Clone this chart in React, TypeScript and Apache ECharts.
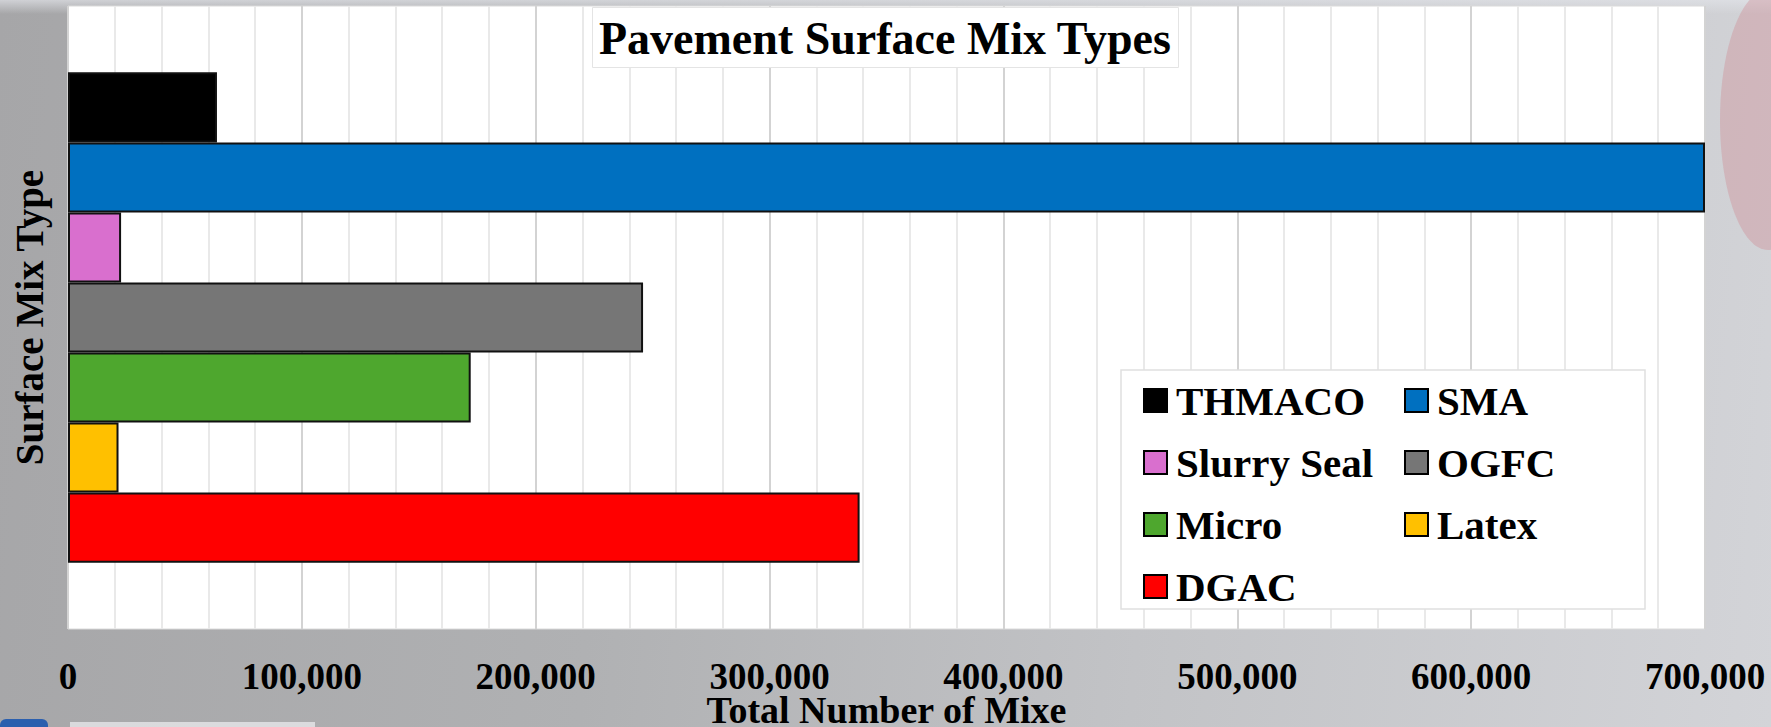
import React, { useEffect, useRef } from "react";
import * as echarts from "echarts";

// Pavement surface mix totals, one bar per mix type
const surfaceCategory = ["Surface Mix"];
const mixTypes = ["THMACO", "SMA", "Slurry Seal", "OGFC", "Micro", "Latex", "DGAC"];
const mixTotals = [63700, 700000, 22700, 245900, 172200, 21600, 338500];
const mixColors = ["#000000", "#0070C0", "#D96FCE", "#767676", "#4EA72E", "#FFC000", "#FF0000"];
const legendColumnA = ["THMACO", "Slurry Seal", "Micro", "DGAC"];
const legendColumnB = ["SMA", "OGFC", "Latex"];

const FONT = "Liberation Serif";

export default function App() {
  const ref = useRef<HTMLDivElement>(null);

  useEffect(() => {
    if (!ref.current) return;
    const chart = echarts.init(ref.current, undefined, { renderer: "svg" });

    const legendText = {
      fontFamily: FONT,
      fontWeight: "bold" as const,
      fontSize: 41,
      lineHeight: 40,
      color: "#000",
    };

    const legendBase = {
      orient: "vertical" as const,
      top: 380,
      padding: 0,
      itemWidth: 23,
      itemHeight: 23,
      itemGap: 21,
      icon: "rect",
      selectedMode: false,
      itemStyle: { borderColor: "#000", borderWidth: 2 },
      formatter: "{t|{name}}",
      textStyle: {
        ...legendText,
        rich: { t: { ...legendText, padding: [0, 0, 0, 4] } },
      },
    };

    chart.setOption({
      animation: false,
      backgroundColor: "transparent",
      textStyle: { fontFamily: FONT },
      title: {
        text: "Pavement Surface Mix Types",
        left: 592,
        top: 7,
        padding: [8, 7, 7, 7],
        backgroundColor: "#ffffff",
        borderColor: "#e4e4e4",
        borderWidth: 1,
        textStyle: {
          fontFamily: FONT,
          fontWeight: "bold",
          fontSize: 46,
          lineHeight: 46,
          color: "#000",
        },
      },
      legend: [
        { ...legendBase, left: 1143, data: legendColumnA },
        { ...legendBase, left: 1404, data: legendColumnB },
      ],
      grid: {
        left: 68,
        right: 66,
        top: 6,
        bottom: 98,
        containLabel: false,
        outerBoundsMode: "none",
        show: true,
        backgroundColor: "#ffffff",
        borderColor: "#dadada",
        borderWidth: 1,
      },
      xAxis: {
        type: "value",
        min: 0,
        max: 700000,
        interval: 100000,
        name: "Total Number of Mixe",
        nameLocation: "middle",
        nameGap: 68,
        nameMoveOverlap: false,
        nameTextStyle: {
          fontFamily: FONT,
          fontWeight: "bold",
          fontSize: 38,
          lineHeight: 26,
          color: "#000",
        },
        axisLine: { show: false },
        axisTick: { show: false },
        axisLabel: {
          margin: 32,
          fontFamily: FONT,
          fontWeight: "bold",
          fontSize: 37,
          lineHeight: 30,
          color: "#000",
          formatter: (v: number) => v.toLocaleString("en-US"),
        },
        splitLine: { show: true, lineStyle: { color: "#d3d3d3", width: 2 } },
        minorTick: { show: false, splitNumber: 5 },
        minorSplitLine: { show: true, lineStyle: { color: "#e9e9e9", width: 2 } },
      },
      yAxis: {
        type: "category",
        data: surfaceCategory,
        name: "Surface Mix Type",
        nameLocation: "middle",
        nameGap: 19,
        nameMoveOverlap: false,
        nameTextStyle: {
          fontFamily: FONT,
          fontWeight: "bold",
          fontSize: 39,
          lineHeight: 39,
          color: "#000",
        },
        axisLine: { show: false },
        axisTick: { show: false },
        axisLabel: { show: false },
        splitLine: { show: false },
      },
      graphic: [
        {
          type: "rect",
          z: 3,
          shape: { x: 1121, y: 370, width: 524, height: 239 },
          style: { fill: "#ffffff", stroke: "#e0e0e0", lineWidth: 1.5 },
        },
        {
          type: "ellipse",
          z: 0,
          shape: { cx: 1768, cy: 120, rx: 48, ry: 130 },
          style: { fill: "rgba(205,120,130,0.3)" },
        },
        {
          type: "rect",
          z: 0,
          shape: { x: 0, y: 719, width: 48, height: 20, r: 6 },
          style: { fill: "#2b5fae" },
        },
        {
          type: "rect",
          z: 0,
          shape: { x: 70, y: 722, width: 245, height: 10 },
          style: { fill: "rgba(240,240,242,0.7)" },
        },
      ],
      series: mixTypes.map((name, i) => ({
        name,
        type: "bar",
        data: [mixTotals[i]],
        barGap: "0%",
        barCategoryGap: "21.3%",
        itemStyle: { color: mixColors[i], borderColor: "#111", borderWidth: 2 },
      })),
    });

    return () => chart.dispose();
  }, []);

  return (
    <div
      ref={ref}
      style={{
        position: "fixed",
        left: 0,
        top: 0,
        width: 1771,
        height: 727,
        background:
          "linear-gradient(180deg, rgba(225,227,232,0.7) 0px, rgba(225,227,232,0) 14px), linear-gradient(95deg, #a6a6a8 0%, #b0b1b3 35%, #c2c3c6 65%, #d3d4d8 100%)",
      }}
    />
  );
}
